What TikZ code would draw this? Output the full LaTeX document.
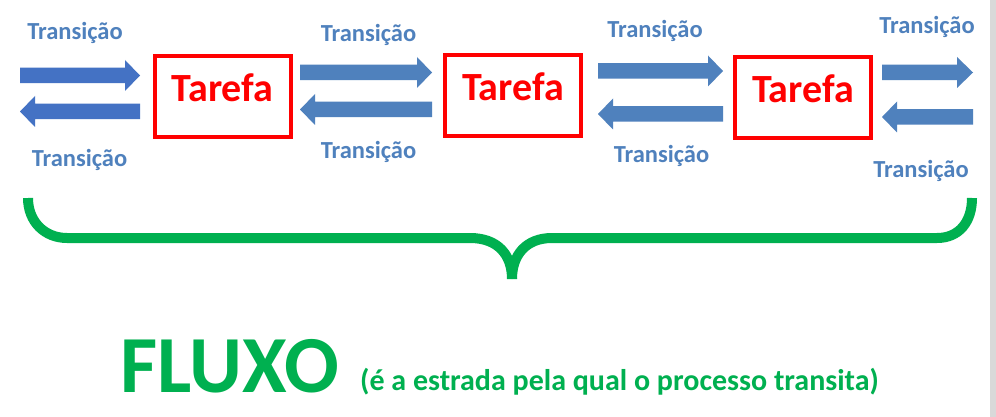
\documentclass[tikz,border=0pt]{standalone}
\usepackage{fontspec}
\setmainfont{Carlito}
\definecolor{arrA}{HTML}{4472C4}
\definecolor{arrB}{HTML}{4F81BD}
\definecolor{lblblue}{HTML}{4F81BD}
\definecolor{taskred}{HTML}{FF0000}
\definecolor{fgreen}{HTML}{00B050}
\definecolor{edgegray}{HTML}{D9D9D9}
\newcommand\blkarrow[5]{% tail x, tip x, centre y, head base x, colour
  \fill[#5] (#1,#3-7.75) -- (#4,#3-7.75) -- (#4,#3-15.5) -- (#2,#3)
    -- (#4,#3+15.5) -- (#4,#3+7.75) -- (#1,#3+7.75) -- cycle;}
\tikzset{
  taskbox/.style={draw=taskred, line width=4pt, minimum width=136pt, minimum height=81pt,
    inner sep=0pt, text=taskred, font=\bfseries\fontsize{40}{46}\selectfont,
    text height=11pt, text depth=0pt},
  translbl/.style={anchor=base, inner sep=0pt, text=lblblue,
    font=\bfseries\fontsize{24.5}{29}\selectfont},
  bracestroke/.style={draw=fgreen, line width=10pt},
}
\begin{document}
\begin{tikzpicture}[x=1pt,y=-1pt]
\useasboundingbox (0,0) rectangle (996,417);
\fill[white] (0,0) rectangle (996,417);
\fill[edgegray] (990,0) rectangle (996,417);

% task boxes
\node[taskbox] (t1) at (222.5,96.5) {Tarefa};
\node[taskbox] (t2) at (513,95.5) {Tarefa};
\node[taskbox] (t3) at (803,97.5) {Tarefa};

% block arrows
\blkarrow{20}{140}{75.5}{125}{arrA}
\blkarrow{140}{20}{111.5}{35}{arrA}
\blkarrow{300}{432}{72.5}{417}{arrB}
\blkarrow{432}{300}{109.5}{315}{arrB}
\blkarrow{598}{723}{71}{708}{arrB}
\blkarrow{723}{598}{114}{613}{arrB}
\blkarrow{882}{973}{72.5}{957}{arrB}
\blkarrow{973}{882}{117}{897}{arrB}

% labels
\node[translbl] (l1t) at (75,40) {Transição};
\node[translbl] (l1b) at (79.5,167) {Transição};
\node[translbl] (l2t) at (368.5,42) {Transição};
\node[translbl] (l2b) at (368.5,158) {Transição};
\node[translbl] (l3t) at (655,38) {Transição};
\node[translbl] (l3b) at (661.5,162) {Transição};
\node[translbl] (l4t) at (927,34) {Transição};
\node[translbl] (l4b) at (921,178) {Transição};

% brace
\draw[bracestroke] (28,198) .. controls (28,222) and (45,238) .. (67,238) -- (470,238)
  .. controls (498,238) and (512,255) .. (512,279);
\draw[bracestroke] (972,198) .. controls (972,222) and (959,238) .. (937,238) -- (552,238)
  .. controls (526,238) and (512,255) .. (512,279);

% caption
\node[anchor=base west, inner sep=0pt, text=fgreen, font=\bfseries\fontsize{81}{84}\selectfont] (fluxo) at (120,392) {FLUXO};
\node[anchor=base west, inner sep=0pt, text=fgreen, font=\bfseries\fontsize{30}{34}\selectfont] (sub) at (360,390) {(é a estrada pela qual o processo transita)};
\end{tikzpicture}
\end{document}
